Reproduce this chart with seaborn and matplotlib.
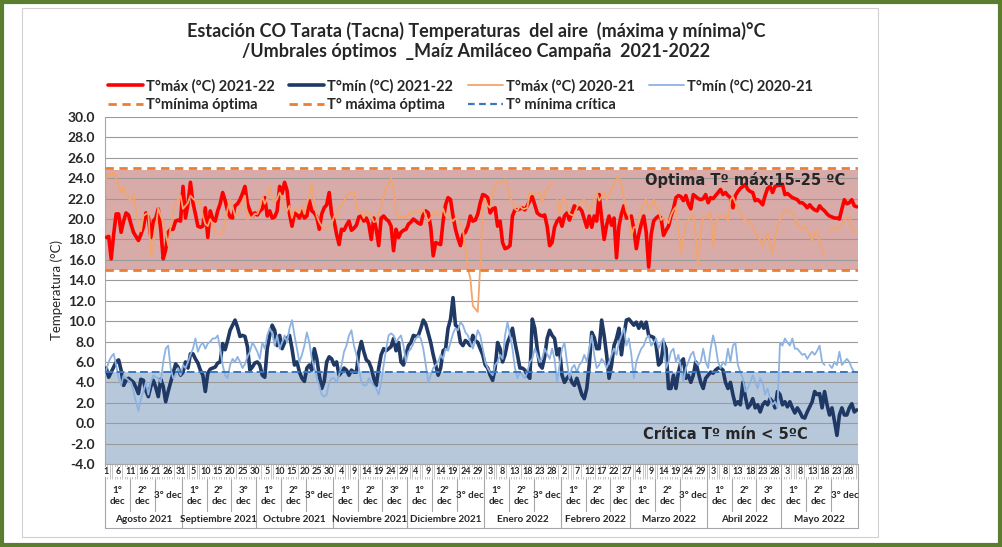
import numpy as np
import pandas as pd
import matplotlib.pyplot as plt
import seaborn as sns
from matplotlib.lines import Line2D
from matplotlib.patches import Rectangle

# --- data (one value per day, 1 Aug 2021 .. 31 May 2022) ---
months = ['Agosto 2021', 'Septiembre 2021', 'Octubre 2021', 'Noviembre 2021', 'Diciembre 2021',
          'Enero 2022', 'Febrero 2022', 'Marzo 2022', 'Abril 2022', 'Mayo 2022']
month_days = [31, 30, 31, 30, 31, 31, 28, 31, 30, 31]
decade_names = ['1°\ndec', '2°\ndec', '3° dec']

tmax_2122 = [
    18.2, 18.3, 16.1, 18.5, 20.5, 20.5, 18.7, 19.8, 20.6, 20.4,
    19.5, 18.7, 18.3, 17.9, 18.5, 19.2, 20.6, 20.2, 18.2, 19.8,
    20.1, 21.0, 19.0, 16.1, 17.0, 18.7, 19.0, 19.0, 19.8, 19.9,
    19.8, 23.2, 20.1, 21.5, 23.6, 21.6, 20.5, 19.3, 19.2, 19.3,
    21.1, 18.2, 20.8, 20.0, 19.8, 20.8, 21.5, 22.6, 21.8, 20.8,
    20.2, 20.1, 21.3, 21.5, 21.9, 22.5, 23.2, 21.5, 20.8, 20.3,
    20.6, 20.4, 20.8, 21.0, 22.1, 20.3, 20.8, 20.1, 20.2, 20.8,
    23.2, 22.5, 23.6, 22.8, 20.5, 19.3, 20.6, 20.4, 20.1, 20.8,
    20.1, 20.3, 21.8, 20.8, 20.6, 20.2, 19.0, 20.5, 21.1, 21.4,
    22.6, 20.5, 19.8, 18.5, 17.5, 19.0, 18.9, 19.4, 19.8, 18.9,
    19.1, 19.4, 20.2, 20.3, 19.8, 20.1, 19.5, 18.0, 20.1, 19.0,
    17.4, 20.1, 20.3, 20.0, 19.8, 19.3, 16.9, 19.0, 18.2, 18.7,
    18.9, 19.0, 19.5, 19.7, 20.0, 19.8, 19.6, 19.5, 20.5, 20.8,
    20.6, 19.2, 16.4, 17.7, 17.6, 17.5, 19.8, 21.4, 22.1, 21.9,
    20.3, 19.0, 18.1, 17.4, 18.5, 18.7, 19.3, 20.3, 19.8, 19.9,
    20.5, 21.6, 22.4, 22.3, 22.1, 20.6, 21.0, 21.1, 19.3, 19.8,
    17.7, 17.1, 17.2, 17.4, 20.3, 20.9, 20.9, 21.0, 21.1, 20.9,
    21.3, 21.8, 22.2, 21.4, 20.6, 20.4, 20.3, 20.4, 19.3, 17.4,
    17.7, 19.2, 19.8, 20.1, 19.3, 20.3, 20.6, 19.9, 20.6, 21.3,
    21.0, 21.1, 20.8, 20.0, 19.2, 20.3, 19.2, 20.3, 19.8, 22.4,
    20.1, 18.0, 19.4, 20.3, 19.4, 20.1, 16.2, 19.3, 20.5, 21.3,
    20.1, 20.1, 20.3, 19.0, 17.1, 18.5, 19.5, 20.3, 18.7, 15.3,
    18.5, 19.8, 20.1, 20.3, 20.1, 18.4, 18.9, 19.3, 20.3, 21.0,
    22.1, 22.3, 22.2, 21.8, 22.3, 21.5, 21.0, 22.4, 22.2, 22.0,
    21.9, 22.0, 22.4, 21.6, 22.1, 22.0, 22.3, 22.6, 22.9, 22.4,
    22.6, 22.3, 22.1, 21.1, 22.3, 22.7, 23.0, 23.2, 23.4, 22.9,
    22.7, 22.6, 21.8, 21.9, 21.7, 21.4, 22.3, 23.0, 23.2, 22.6,
    23.2, 23.3, 23.3, 23.4, 22.4, 22.5, 22.3, 22.1, 22.0, 21.9,
    21.6, 21.6, 21.4, 21.1, 21.4, 21.1, 20.9, 20.8, 21.3, 21.0,
    20.8, 20.5, 20.3, 20.2, 20.1, 20.1, 20.0, 21.0, 21.9, 21.5,
    21.6, 21.9, 21.3, 21.2,
]

tmin_2122 = [
    5.4, 4.5, 5.0, 5.5, 6.0, 6.2, 5.2, 3.7, 4.2, 4.4,
    4.2, 4.0, 3.5, 2.9, 4.3, 4.2, 3.2, 2.6, 3.6, 4.2,
    3.5, 2.6, 4.3, 3.6, 2.1, 3.1, 4.0, 4.9, 5.8, 5.5,
    4.7, 5.0, 6.0, 5.4, 6.8, 6.8, 6.3, 5.9, 5.2, 4.7,
    3.1, 4.9, 5.3, 5.4, 5.5, 5.9, 6.0, 7.8, 7.2, 8.1,
    9.1, 9.6, 10.1, 9.4, 8.5, 8.6, 8.5, 7.5, 5.2, 5.5,
    5.9, 6.0, 5.7, 4.7, 4.5, 7.3, 8.6, 9.6, 9.1, 7.6,
    8.6, 7.3, 7.9, 8.3, 8.6, 7.3, 5.7, 6.0, 5.0, 4.4,
    4.1, 5.4, 5.7, 5.2, 7.3, 6.3, 4.7, 3.4, 4.1, 6.0,
    6.5, 6.3, 5.7, 6.0, 4.7, 5.0, 5.4, 5.2, 4.7, 5.2,
    5.0, 5.0, 7.0, 8.0, 7.0, 6.2, 6.0, 5.4, 4.4, 3.7,
    5.4, 6.7, 7.3, 7.1, 7.3, 7.5, 8.3, 7.1, 7.9, 6.0,
    5.7, 6.7, 7.6, 7.9, 8.6, 8.5, 8.6, 9.3, 10.1, 9.7,
    8.8, 7.9, 6.7, 5.7, 4.7, 5.4, 7.1, 7.3, 9.3, 10.2,
    12.3, 9.6, 9.4, 7.9, 7.6, 8.1, 7.9, 7.6, 8.6, 8.1,
    7.9, 7.3, 6.7, 5.7, 5.4, 4.7, 4.2, 5.4, 7.9, 7.3,
    6.0, 6.7, 7.9, 8.5, 9.3, 7.9, 6.7, 5.4, 5.4, 5.2,
    4.7, 4.4, 10.2, 9.3, 7.3, 5.7, 5.4, 6.5, 8.3, 9.1,
    8.6, 8.3, 6.7, 7.3, 4.7, 4.0, 4.4, 4.7, 4.0, 3.7,
    4.4, 3.6, 2.8, 2.4, 3.4, 5.7, 8.9, 8.4, 7.3, 7.3,
    10.1, 8.6, 6.7, 4.4, 5.7, 7.6, 8.3, 9.3, 6.7, 8.6,
    10.1, 10.2, 9.9, 9.6, 9.9, 9.3, 9.9, 9.3, 9.9, 8.6,
    8.5, 8.4, 7.6, 5.7, 6.0, 7.9, 7.3, 3.4, 3.4, 4.7,
    3.4, 5.0, 6.0, 6.3, 4.4, 4.7, 4.0, 4.7, 6.0, 5.0,
    4.0, 3.4, 4.4, 4.7, 5.0, 4.9, 5.2, 5.4, 5.4, 5.2,
    4.0, 3.4, 4.0, 2.8, 1.8, 2.1, 1.8, 4.0, 2.6, 1.5,
    1.8, 2.4, 1.5, 1.8, 1.1, 1.8, 2.1, 1.8, 2.4, 2.1,
    1.5, 3.1, 2.8, 1.8, 2.1, 1.6, 2.1, 1.5, 1.0, 1.5,
    1.1, 0.6, 0.5, 1.1, 1.6, 2.1, 3.1, 2.8, 2.9, 1.5,
    3.1, 1.8, 0.8, 1.5, 0.2, -1.2, 0.8, 1.5, 0.8, 0.8,
    1.5, 1.9, 1.1, 1.3,
]

tmax_2021 = [
    23.9, 24.5, 24.2, 24.7, 24.0, 23.2, 22.6, 23.1, 22.3, 22.0,
    21.9, 22.4, 20.8, 19.5, 18.8, 20.3, 20.5, 20.6, 16.4, 17.4,
    19.2, 21.1, 20.3, 19.7, 18.7, 17.4, 19.3, 20.6, 21.5, 21.9,
    22.3, 21.0, 21.3, 21.6, 22.3, 22.0, 21.8, 21.6, 21.8, 20.3,
    19.5, 19.3, 20.0, 19.4, 18.7, 18.6, 18.5, 18.7, 19.8, 21.0,
    21.9, 21.2, 20.3, 20.4, 21.1, 21.7, 22.3, 20.0, 20.1, 20.2,
    20.5, 20.5, 21.1, 22.3, 21.5, 22.0, 23.2, 22.2, 21.6, 22.0,
    22.6, 22.1, 21.0, 20.8, 21.3, 20.1, 21.1, 20.8, 20.6, 21.3,
    20.5, 21.5, 22.3, 23.4, 21.6, 20.3, 19.7, 19.3, 19.0, 19.2,
    19.3, 19.5, 20.3, 20.1, 21.1, 21.4, 21.8, 22.3, 22.5, 22.7,
    22.6, 21.3, 20.8, 20.6, 20.1, 20.8, 20.5, 20.3, 19.7, 19.8,
    20.6, 21.3, 22.3, 23.0, 23.5, 24.0, 22.8, 20.8, 20.1, 20.2,
    20.3, 20.1, 20.6, 20.3, 20.8, 20.7, 20.9, 20.5, 21.0, 20.3,
    19.8, 20.1, 20.5, 20.8, 20.3, 20.6, 21.0, 20.3, 20.6, 20.0,
    19.8, 20.1, 19.9, 19.6, 19.0, 17.1, 15.1, 14.2, 11.5, 11.2,
    10.9, 15.5, 21.0, 21.9, 21.3, 21.1, 22.5, 23.2, 23.6, 23.6,
    23.7, 23.9, 23.2, 22.1, 21.6, 21.0, 20.8, 21.3, 21.0, 21.0,
    21.1, 22.7, 22.6, 22.3, 22.5, 22.6, 21.6, 22.6, 22.9, 23.2,
    23.6, np.nan, 21.9, 20.5, 21.9, 22.1, 21.1, 20.5, 20.4, 20.3,
    21.1, 21.6, 21.8, 21.9, 21.3, 20.8, 21.5, 21.9, 22.6, 21.8,
    22.2, 22.6, 21.9, 22.3, 22.9, 23.6, 23.9, 24.2, 23.2, 22.0,
    20.8, 20.3, 18.3, 19.2, 19.2, 20.0, 20.9, 21.5, 21.9, 20.9,
    21.2, 21.9, 21.2, 20.8, 19.9, 20.2, 20.0, 19.6, 20.4, 20.9,
    21.2, 19.0, 16.6, 18.3, 19.4, 19.9, 20.3, 20.6, 18.0, 15.5,
    18.6, 20.2, 20.2, 20.3, 20.6, 17.3, 19.5, 20.2, 20.2, 20.4,
    20.3, 19.9, 21.9, 22.2, 21.6, 21.2, 20.4, 20.1, 19.9, 19.8,
    19.6, 19.2, 18.6, 18.3, 17.9, 17.3, 18.2, 18.6, 17.5, 16.6,
    18.3, 19.2, 19.9, 20.5, 20.9, 20.8, 20.8, 20.5, 20.2, 19.5,
    19.2, 19.0, 19.3, 18.9, 18.6, 17.9, 18.6, 18.9, 17.9, 17.0,
    16.6, np.nan, 18.9, 19.2, 18.9, 19.1, 19.2, 19.5, 19.9, 20.2,
    20.2, 19.0, 18.9, 18.8,
]

tmin_2021 = [
    5.2, 6.0, 6.5, 6.8, 5.7, 4.4, 3.7, 4.7, 4.4, 4.2,
    4.0, 3.1, 2.1, 1.2, 2.4, 3.1, 4.0, 2.8, 4.0, 4.7,
    4.5, 4.4, 4.0, 6.0, 7.3, 7.6, 5.4, 4.4, 4.7, 5.4,
    4.7, 5.7, 5.4, 6.0, 6.7, 7.3, 8.3, 7.0, 7.6, 7.9,
    7.3, 7.8, 8.0, 8.3, 8.3, 8.6, 7.3, 5.7, 4.7, 4.4,
    5.7, 6.3, 6.0, 6.5, 6.0, 5.4, 5.8, 6.5, 7.0, 7.9,
    7.5, 7.0, 6.3, 7.9, 7.3, 8.6, 9.3, 8.8, 7.6, 8.6,
    7.3, 7.9, 8.6, 7.9, 9.3, 10.1, 8.6, 7.3, 6.0, 6.7,
    7.6, 8.9, 7.9, 6.3, 5.4, 4.4, 3.7, 2.8, 2.6, 2.8,
    4.0, 4.4, 4.4, 4.0, 4.7, 5.7, 7.0, 7.6, 8.6, 9.1,
    7.6, 6.7, 5.4, 4.0, 3.7, 3.7, 4.4, 4.0, 3.7, 3.4,
    2.8, 4.0, 5.7, 7.3, 8.6, 8.8, 8.6, 7.9, 8.3, 8.6,
    7.6, 6.0, 7.0, 7.3, 7.8, 8.3, 8.6, 8.3, 7.3, 5.7,
    4.0, 4.7, 5.4, 5.7, 6.0, 6.7, 6.3, 7.3, 7.1, 7.9,
    8.8, 9.3, 9.1, 9.9, 9.6, 8.9, 8.6, 7.9, 7.3, 8.1,
    9.1, 8.6, 7.3, 6.0, 5.4, 5.0, 4.7, 5.7, 6.0, 6.7,
    6.3, 8.6, 9.9, 8.6, 7.3, 5.4, 4.4, 5.0, 4.7, 4.4,
    5.0, 6.0, 6.3, 7.3, 6.7, 6.0, 6.3, 7.3, 6.8, 6.3,
    7.3, 6.3, 4.0, 5.7, 7.3, 7.9, 6.0, 4.4, 5.4, 5.7,
    5.0, 5.7, 6.0, 6.7, 6.0, 7.3, 8.6, 6.7, 5.4, 5.7,
    6.3, 6.0, 5.4, 6.0, 6.7, 7.3, 6.7, 7.9, 8.6, 9.3,
    7.6, 8.3, 6.7, 4.4, 6.0, 6.7, 7.3, 7.6, 8.3, 8.6,
    7.6, 7.9, 8.3, 7.3, 7.9, 8.3, 5.4, 6.0, 7.0, 7.3,
    6.0, 6.7, 5.4, 4.0, 5.4, 6.0, 6.7, 7.0, 6.0, 5.7,
    6.0, 7.3, 6.0, 5.4, 7.3, 8.6, 7.6, 6.0, 5.4, 6.0,
    5.7, 7.3, 6.0, 7.6, 7.9, 5.7, 5.0, 4.4, 3.1, 3.4,
    4.0, 4.7, 4.0, 3.4, 4.4, 4.0, 2.8, 3.4, 2.4, 1.8,
    2.1, 1.5, 7.9, 7.6, 8.3, 7.9, 7.6, 8.3, 7.3, 7.3,
    7.0, 6.7, 6.8, 6.3, 6.7, 7.0, 6.7, 7.1, 7.6, 6.0,
    5.7, np.nan, 5.7, 5.4, 6.0, 5.7, 7.0, 5.7, 6.0, 6.3,
    6.0, 5.4, 5.0, 5.0,
]

series_names = ['T°máx (°C) 2021-22', 'T°mín (°C) 2021-22', 'T°máx (°C) 2020-21', 'T°mín (°C) 2020-21']
series_values = [tmax_2122, tmin_2122, tmax_2021, tmin_2021]
series_colors = ['#FF0000', '#1F3864', '#F2A56E', '#8DB3E2']
series_widths = [2.6, 2.6, 1.3, 1.3]

t_min_opt = 15.0
t_max_opt = 25.0
t_min_crit = 5.0

# --- long table for seaborn; a new segment starts after each missing day ---
frames = []
for name, vals in zip(series_names, series_values):
    v = pd.Series(vals, dtype=float)
    frames.append(pd.DataFrame({'dia': np.arange(len(v)), 'temp': v, 'serie': name,
                                'seg': v.isna().cumsum()}))
df = pd.concat(frames).dropna(subset=['temp'])

sns.set_theme(style='white')
plt.rcParams['font.family'] = ['Lato', 'DejaVu Sans']

W, H = 1002, 547
fig = plt.figure(figsize=(W / 100, H / 100), dpi=100)
ax = fig.add_axes([105 / W, 1 - 464 / H, 753 / W, 347 / H])

# bands and thresholds
ax.axhspan(t_min_opt, 24.8, color='#D8AAA8', zorder=0.2, lw=0)
ax.axhspan(-4, t_min_crit, color='#B8C8DB', zorder=0.2, lw=0)

sns.lineplot(data=df, x='dia', y='temp', hue='serie', units='seg', estimator=None,
             hue_order=series_names, palette=dict(zip(series_names, series_colors)),
             size='serie', sizes=dict(zip(series_names, series_widths)),
             sort=False, legend=False, ax=ax, zorder=3)

ax.axhline(t_min_opt, color='#ED7D31', lw=2, ls=(0, (3, 2)), zorder=4)
ax.axhline(t_max_opt, color='#ED7D31', lw=2, ls=(0, (3, 2)), zorder=4)
ax.axhline(t_min_crit, color='#3A78C2', lw=1.4, ls=(0, (4, 2)), zorder=4)

n_days = len(tmax_2122)
ax.set_xlim(-0.5, n_days - 0.5)
ax.set_ylim(-4, 30)
ax.set_yticks(np.arange(-4, 31, 2))
ax.set_yticklabels([f'{v:.1f}' for v in np.arange(-4, 31, 2)], fontsize=10, fontweight='bold')
ax.set_axisbelow(True)
ax.yaxis.grid(True, color='#9A9A9A', lw=0.8)
ax.xaxis.grid(False)
ax.tick_params(axis='y', length=0, pad=7)
ax.set_xticks([])
ax.set_xlabel('')
ax.set_ylabel('Temperatura (°C)', fontsize=9.5, labelpad=3)
for s in ['top', 'right']:
    ax.spines[s].set_visible(False)
for s in ['left', 'bottom']:
    ax.spines[s].set_color('#A6A6A6')
    ax.spines[s].set_linewidth(0.8)

ax.text(258, 23.8, 'Optima Tº máx:15-25 ºC', ha='center', va='center', fontsize=10.5,
        fontweight='bold', family='DejaVu Sans', zorder=6)
ax.text(250, -1.1, 'Crítica Tº mín < 5ºC', ha='center', va='center', fontsize=10.5,
        fontweight='bold', family='DejaVu Sans', zorder=6)

# --- three level category axis: day, decade, month ---
tr = ax.get_xaxis_transform()


def fy(px):
    return -(px - 464) / 347


day_of_month = [d for n in month_days for d in range(1, n + 1)]
ax.vlines(np.arange(n_days + 1) - 0.5, fy(479), 0, transform=tr, color='#BDBDBD', lw=0.6, clip_on=False)
for i, d in enumerate(day_of_month):
    if i % 5 == 0:
        ax.text(i, fy(472), str(d), transform=tr, ha='center', va='center', fontsize=6.5,
                fontweight='bold', bbox=dict(fc='white', ec='none', pad=0.4))

start = 0
for name, n in zip(months, month_days):
    ax.plot([start - 0.5] * 2, [0, fy(528)], transform=tr, color='#A6A6A6', lw=0.8, clip_on=False)
    bounds = [start, start + 10, start + 20, start + n]
    for k in range(3):
        lab = decade_names[k]
        if k == 2 and n < 31:
            lab = '3°\ndec'
        ax.text((bounds[k] + bounds[k + 1] - 1) / 2, fy(496), lab, transform=tr, ha='center',
                va='center', fontsize=7, fontweight='bold', linespacing=1.3)
        if k > 0:
            ax.plot([bounds[k] - 0.5] * 2, [fy(479), fy(511)], transform=tr, color='#A6A6A6',
                    lw=0.8, clip_on=False)
    ax.text(start + (n - 1) / 2, fy(520), name, transform=tr, ha='center', va='center',
            fontsize=7.2, fontweight='bold')
    start += n
ax.plot([n_days - 0.5] * 2, [0, fy(528)], transform=tr, color='#A6A6A6', lw=0.8, clip_on=False)
ax.plot([-0.5, n_days - 0.5], [fy(528)] * 2, transform=tr, color='#A6A6A6', lw=0.8, clip_on=False)

# --- legend ---
h = [Line2D([], [], color=c, lw=w) for c, w in zip(series_colors, series_widths)]
h_opt_min = Line2D([], [], color='#ED7D31', lw=2, ls=(0, (3, 2)))
h_opt_max = Line2D([], [], color='#ED7D31', lw=2, ls=(0, (3, 2)))
h_crit = Line2D([], [], color='#3A78C2', lw=1.6, ls=(0, (3, 2)))
handles = [h[0], h_opt_min, h[1], h_opt_max, h[2], h_crit, h[3]]
labels = [series_names[0], 'T°mínima óptima', series_names[1], 'T° máxima óptima',
          series_names[2], 'T° mínima crítica', series_names[3]]
fig.legend(handles, labels, ncol=4, loc='upper left', bbox_to_anchor=(108 / W, 1 - 79 / H),
           frameon=False, prop={'weight': 'bold', 'size': 10.5}, handlelength=2.4,
           handletextpad=0.2, columnspacing=1.0, borderpad=0, borderaxespad=0, labelspacing=0.3)

fig.text(476 / W, 1 - 41 / H,
         'Estación CO Tarata (Tacna) Temperaturas  del aire  (máxima y mínima)°C\n'
         '/Umbrales óptimos  _Maíz Amiláceo Campaña  2021-2022',
         ha='center', va='center', fontsize=13, fontweight='bold', linespacing=1.25)

# frames
fig.patches.append(Rectangle((22 / W, 1 - 537 / H), 856 / W, 529 / H, transform=fig.transFigure,
                             fill=False, ec='#D0D0D0', lw=0.8))
fig.patches.append(Rectangle((2 / W, 2 / H), 1 - 4 / W, 1 - 4 / H, transform=fig.transFigure,
                             fill=False, ec='#5B7E2E', lw=3))

fig.savefig('out.png', dpi=100)
